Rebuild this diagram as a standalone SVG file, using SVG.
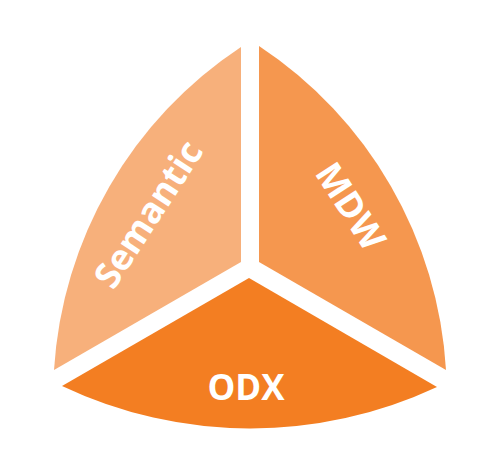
<svg xmlns="http://www.w3.org/2000/svg" width="500" height="474" viewBox="0 0 500 474">
<style>
.lbl{font-family:"Open Sans","Liberation Sans",sans-serif;font-weight:bold;fill:#FFFFFF;text-anchor:middle}
</style>
<rect width="500" height="474" fill="#FFFFFF"/>
<g id="semantic">
<path d="M241,47 A418,418 0 0 0 54,370 L241,262 Z" fill="#F7B07B"/>
<text class="lbl" font-size="36" transform="translate(148,214) rotate(-57)" y="13">Semantic</text>
</g>
<g id="mdw">
<path d="M259,46 L259,262 L446,370 A418,418 0 0 0 259,46 Z" fill="#F5974F"/>
<text class="lbl" font-size="36" transform="translate(351,206) rotate(57)" y="13">MDW</text>
</g>
<g id="odx">
<path d="M249,278 L437,387 A440,440 0 0 1 62,386 Z" fill="#F37E22"/>
<text class="lbl" font-size="35" x="246" y="400">ODX</text>
</g>
<g id="connectors"/>
</svg>
